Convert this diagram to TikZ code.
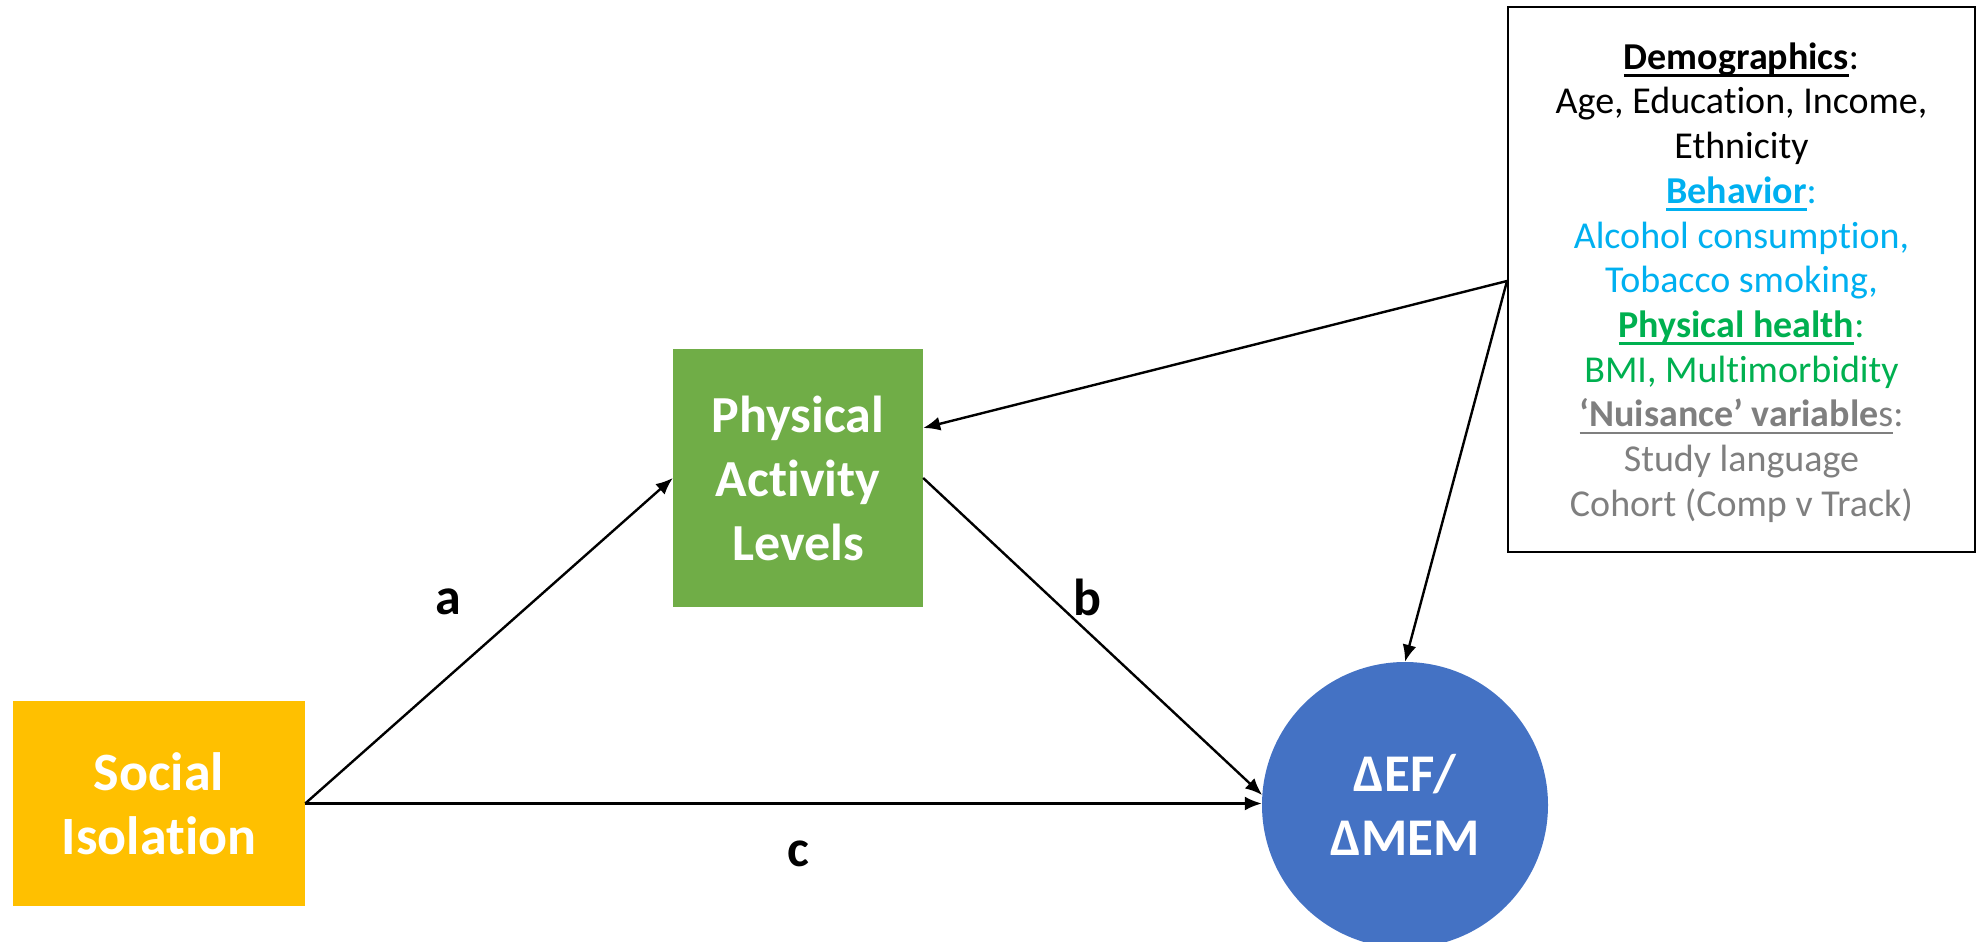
\documentclass[tikz,border=0pt]{standalone}
\usepackage{fontspec}
\setmainfont{Carlito}[Ligatures=NoCommon]
\usetikzlibrary{arrows.meta}

\definecolor{isoorange}{HTML}{FFC000}
\definecolor{pagreen}{HTML}{70AD47}
\definecolor{efblue}{HTML}{4472C4}
\definecolor{behblue}{HTML}{00B0F0}
\definecolor{hlthgreen}{HTML}{00B050}
\definecolor{nuisgray}{HTML}{7F7F7F}

% underline drawn as a rule below the baseline, in the current colour
\newcommand\ulin[1]{\setbox0=\hbox{#1}\rlap{\vrule height -5pt depth 7.5pt width \wd0}\box0}

\tikzset{
  varbox/.style={rectangle, inner sep=0pt, text=white, align=center},
  link/.style={line width=2.4pt, -{Latex[length=17pt,width=14pt]}},
  pathlabel/.style={font=\bfseries\fontsize{52}{62}\selectfont}
}

\begin{document}
\begin{tikzpicture}[x=1pt, y=-1pt]
  \useasboundingbox (0,0) rectangle (1979,942);

  % variables of the mediation model
  \node[varbox, fill=isoorange, minimum width=292pt, minimum height=205pt,
        font=\bfseries\fontsize{54}{64}\selectfont] (soc) at (159,803.5) {Social\\Isolation};
  \node[varbox, fill=pagreen, minimum width=250pt, minimum height=258pt,
        font=\bfseries\fontsize{52}{64}\selectfont] (pa) at (798,478) {Physical\\Activity\\Levels};
  \node[circle, inner sep=0pt, fill=efblue, minimum size=286pt, text=white, align=center,
        font=\bfseries\fontsize{53}{64}\selectfont] (ef) at (1405,805) {ΔEF/\\ΔMEM};

  % covariates box and its list
  \node[draw, line width=2.4pt, minimum width=467pt, minimum height=545pt, inner sep=0pt]
        (cov) at (1741.5,279.5) {};
  \node[inner sep=0pt, align=center, font=\fontsize{38}{44.7}\selectfont]
        (covtxt) at ([yshift=-3pt]cov.center)
    {\ulin{\textbf{Demographics}}:\\
     Age, Education, Income,\\
     Ethnicity\\
     \color{behblue}\ulin{\textbf{Behavior}}:\\
     \color{behblue}Alcohol consumption,\\
     \color{behblue}Tobacco smoking,\\
     \color{hlthgreen}\ulin{\textbf{Physical health}}:\\
     \color{hlthgreen}BMI, Multimorbidity\\
     \color{nuisgray}\ulin{\textbf{‘Nuisance’ variable}s}:\\
     \color{nuisgray}Study language\\
     \color{nuisgray}Cohort (Comp v Track)};

  \coordinate (covOut) at (1507,281);

  % paths
  \draw[link] (soc.east) -- (pa.west);
  \draw[link] (pa.east) -- (ef.176);
  \draw[link] (soc.east) -- (soc.east -| ef.west);
  \draw[link] (covOut) -- ([yshift=50pt]pa.east);
  \draw[link] (covOut) -- (ef.north);

  % path labels
  \node[pathlabel] (la) at (448,602) {a};
  \node[pathlabel] (lb) at (1087,597) {b};
  \node[pathlabel] (lc) at (798,854) {c};
\end{tikzpicture}
\end{document}
